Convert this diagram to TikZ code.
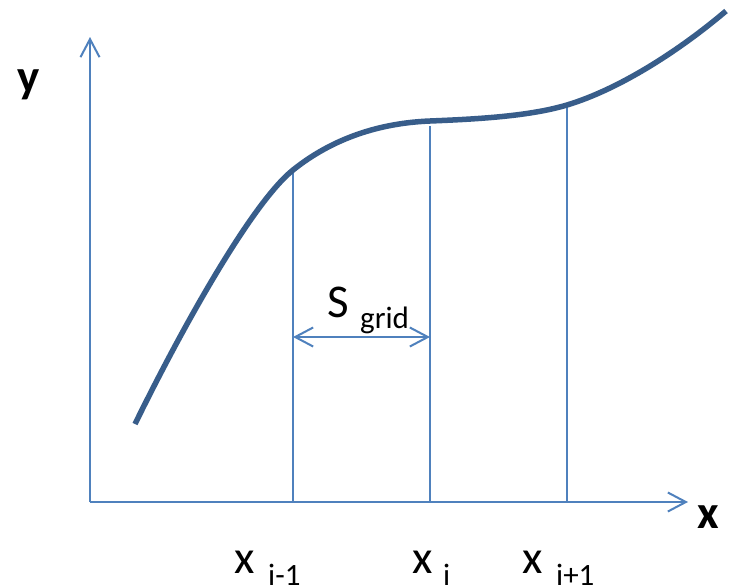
\documentclass[tikz,border=0pt]{standalone}
\usepackage{fontspec}
\setmainfont{Carlito}
\usetikzlibrary{arrows.meta, calc}
\definecolor{axisblue}{RGB}{79,129,189}
\definecolor{curveblue}{RGB}{56,93,138}

\tikzset{
    axisline/.style={draw=axisblue, line width=2pt},
    barb/.style={-{Straight Barb[length=18pt, width=19pt, line width=2pt]}},
    bigtext/.style={font=\fontsize{47}{50}\selectfont, inner sep=0pt},
    subtext/.style={font=\fontsize{31}{34}\selectfont, inner sep=0pt},
}

\begin{document}
\begin{tikzpicture}[x=1pt, y=-1pt]
\useasboundingbox[fill=white] (0,0) rectangle (731,587);

% Axes
\coordinate (O) at (90,502);
\coordinate (ytip) at (90,37);
\coordinate (xtip) at (688,502);
\draw[axisline, barb] (O) -- (ytip);
\draw[axisline, barb] (O) -- (xtip);
\node[bigtext, font=\fontsize{47}{50}\bfseries\selectfont, anchor=base west] (ylabel) at (17,92) {y};
\node[bigtext, font=\fontsize{47}{50}\bfseries\selectfont, anchor=base west] (xlabel) at (697,528) {x};

% Points on the curve
\coordinate (pa) at (293,170);
\coordinate (pb) at (430,126);
\coordinate (pc) at (567,105);

% Vertical lines at the grid points
\draw[axisline] (pa |- O) -- (pa);
\draw[axisline] (pb |- O) -- (pb);
\draw[axisline] (pc |- O) -- (pc);

% The curve
\draw[curveblue, line width=5.5pt]
    (135,424) .. controls (185,322) and (253,202) .. (293,170)
              .. controls (333,138) and (380,123) .. (430,121)
              .. controls (480,119) and (530,116) .. (567,105)
              .. controls (620,89) and (680,50) .. (726,11);

% Grid spacing
\coordinate (sa) at (pa |- 0,337);
\coordinate (sb) at (pb |- 0,337);
\draw[axisline, {Straight Barb[length=18pt, width=19pt, line width=2pt]}-{Straight Barb[length=18pt, width=19pt, line width=2pt]}] (sa) -- (sb);
\node[bigtext, anchor=base west] (S) at (327,317) {S};
\node[subtext, anchor=base west] (Ssub) at (360,328) {grid};

% Labels below the x axis
\node[bigtext, anchor=base west] (xa) at (234,573) {x};
\node[subtext, anchor=base west] (xasub) at (268,585) {i-1};
\node[bigtext, anchor=base west] (xb) at (412,573) {x};
\node[subtext, anchor=base west] (xbsub) at (443,585) {i};
\node[bigtext, anchor=base west] (xc) at (522,573) {x};
\node[subtext, anchor=base west] (xcsub) at (556,585) {i+1};
\end{tikzpicture}
\end{document}
